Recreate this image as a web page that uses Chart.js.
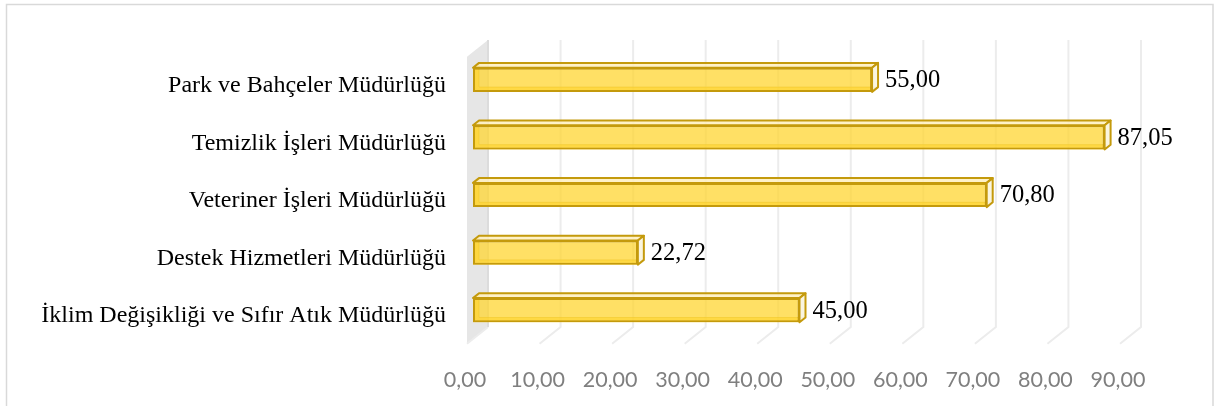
<!DOCTYPE html>
<html lang="tr">
<head>
<meta charset="utf-8">
<title>Müdürlük Puanları</title>
<script src="https://cdn.jsdelivr.net/npm/chart.js@4.4.1/dist/chart.umd.min.js"></script>
<style>
    html, body { margin: 0; padding: 0; background: #fff; }
    #kutu { width: 1217px; height: 406px; }
</style>
</head>
<body>
<div id="kutu"><canvas id="grafik"></canvas></div>
<script>
// ── Veriler ──────────────────────────────────────────────
const birimler = [
    'Park ve Bahçeler Müdürlüğü',
    'Temizlik İşleri Müdürlüğü',
    'Veteriner İşleri Müdürlüğü',
    'Destek Hizmetleri Müdürlüğü',
    'İklim Değişikliği ve Sıfır Atık Müdürlüğü'
];
const puanlar = [55.00, 87.05, 70.80, 22.72, 45.00];
const eksenMin = 0;
const eksenMax = 90;
const eksenAdim = 10;

// ── Biçim ve renkler ─────────────────────────────────────
const fmt = v => Number(v).toFixed(2).replace('.', ',');
const KENAR = '#c49a0c';
const SERIF = '"Liberation Serif", "Times New Roman", serif';
const DERINLIK = 6;         // çubuk derinliği (px)
const EGIM = 0.8;           // derinlik yönü: sağa 1, yukarı 0.8
const ARKA = 15;            // arka duvar uzaklığı
const ON = 6;               // zemin ön kenarı

// Çerçeve, yan duvar, ızgara ve çubukların arka yüzleri
const ucBoyut = {
    id: 'ucBoyut',
    beforeDraw(chart) {
        const c = chart.ctx;
        c.save();
        c.strokeStyle = '#d9d9d9';
        c.lineWidth = 1.5;
        c.strokeRect(6.5, 4.5, 1206.5, 420);
        c.restore();
    },
    beforeDatasetsDraw(chart) {
        const c = chart.ctx;
        const a = chart.chartArea;
        const x = chart.scales.x;
        const x0 = x.getPixelForValue(eksenMin);
        const bx = ARKA, by = -ARKA * EGIM;
        const fx = -ON, fy = ON * EGIM;
        const ustY = a.top + by + 1;
        c.save();

        // sol duvar
        c.fillStyle = '#e6e6e6';
        c.beginPath();
        c.moveTo(x0 + bx, ustY);
        c.lineTo(x0 + bx, a.bottom + by);
        c.lineTo(x0 + fx, a.bottom + fy);
        c.lineTo(x0 + fx, ustY - by + fy);
        c.closePath();
        c.fill();

        // arka ızgara + zemin çizgileri
        c.strokeStyle = '#ececec';
        c.lineWidth = 2;
        for (let v = eksenMin; v <= eksenMax; v += eksenAdim) {
            const px = x.getPixelForValue(v);
            c.beginPath();
            if (v !== eksenMin) c.moveTo(px + bx, ustY);
            else c.moveTo(px + bx, a.bottom + by);
            c.lineTo(px + bx, a.bottom + by);
            c.lineTo(px + fx, a.bottom + fy);
            c.stroke();
        }
        c.strokeStyle = '#dcdcdc';
        c.beginPath();
        c.moveTo(x0 + bx, ustY);
        c.lineTo(x0 + bx, a.bottom + by);
        c.stroke();

        // çubukların alt ve sol yüzleri (saydam ön yüzün arkasından görünür)
        const dx = DERINLIK, dy = -DERINLIK * EGIM;
        chart.getDatasetMeta(0).data.forEach(bar => {
            const { x: son, base, y, height } = bar.getProps(['x', 'base', 'y', 'height'], true);
            const ust = y - height / 2, alt = y + height / 2;
            c.fillStyle = 'rgba(255,205,30,0.6)';
            c.beginPath();
            c.moveTo(base, alt);
            c.lineTo(base + dx, alt + dy);
            c.lineTo(son + dx, alt + dy);
            c.lineTo(son, alt);
            c.closePath();
            c.fill();
            c.beginPath();
            c.moveTo(base, ust);
            c.lineTo(base + dx, ust + dy);
            c.lineTo(base + dx, alt + dy);
            c.lineTo(base, alt);
            c.closePath();
            c.fill();
            c.strokeStyle = 'rgba(196,154,12,0.55)';
            c.lineWidth = 1;
            c.beginPath();
            c.moveTo(base + dx, ust + dy);
            c.lineTo(base + dx, alt + dy);
            c.lineTo(son + dx, alt + dy);
            c.stroke();
        });
        c.restore();
    },
    afterDatasetsDraw(chart) {
        const c = chart.ctx;
        const dx = DERINLIK, dy = -DERINLIK * EGIM;
        c.save();
        c.lineJoin = 'round';
        chart.getDatasetMeta(0).data.forEach((bar, i) => {
            const { x: son, base, y, height } = bar.getProps(['x', 'base', 'y', 'height'], true);
            const ust = y - height / 2, alt = y + height / 2;
            // üst yüz
            c.fillStyle = 'rgba(255,240,190,0.85)';
            c.strokeStyle = KENAR;
            c.lineWidth = 2;
            c.beginPath();
            c.moveTo(base, ust);
            c.lineTo(base + dx, ust + dy);
            c.lineTo(son + dx, ust + dy);
            c.lineTo(son, ust);
            c.closePath();
            c.fill();
            c.stroke();
            // sağ yüz
            c.fillStyle = 'rgba(250,244,222,0.95)';
            c.beginPath();
            c.moveTo(son, ust);
            c.lineTo(son + dx, ust + dy);
            c.lineTo(son + dx, alt + dy);
            c.lineTo(son, alt);
            c.closePath();
            c.fill();
            c.stroke();
            // değer etiketi
            c.fillStyle = '#000';
            c.font = '24.5px ' + SERIF;
            c.textAlign = 'left';
            c.textBaseline = 'middle';
            c.fillText(fmt(puanlar[i]), son + dx + 7, y + 1);
        });
        c.restore();
    }
};

new Chart(document.getElementById('grafik'), {
    type: 'bar',
    data: {
        labels: birimler,
        datasets: [{
            data: puanlar,
            backgroundColor: 'rgba(255,214,50,0.75)',
            borderColor: KENAR,
            borderWidth: 2,
            borderSkipped: false,
            categoryPercentage: 1,
            barPercentage: 0.42
        }]
    },
    options: {
        indexAxis: 'y',
        responsive: true,
        maintainAspectRatio: false,
        animation: false,
        layout: { padding: { top: 51, right: 91, bottom: 0, left: 0 } },
        plugins: {
            legend: { display: false },
            tooltip: { enabled: false }
        },
        scales: {
            x: {
                min: eksenMin,
                max: eksenMax,
                grid: { display: false, drawTicks: false },
                border: { display: false },
                ticks: {
                    stepSize: eksenAdim,
                    padding: 28,
                    labelOffset: -8,
                    color: '#7f7f7f',
                    font: { family: 'Lato', size: 21.5 },
                    callback: v => fmt(v)
                },
                afterFit: s => { s.height = 67; }
            },
            y: {
                grid: { display: false, drawTicks: false },
                border: { display: false },
                ticks: {
                    padding: 27,
                    labelOffset: 6,
                    color: '#000',
                    font: { family: SERIF, size: 24 }
                },
                afterFit: s => { s.width = 473; }
            }
        }
    },
    plugins: [ucBoyut]
});
</script>
</body>
</html>
